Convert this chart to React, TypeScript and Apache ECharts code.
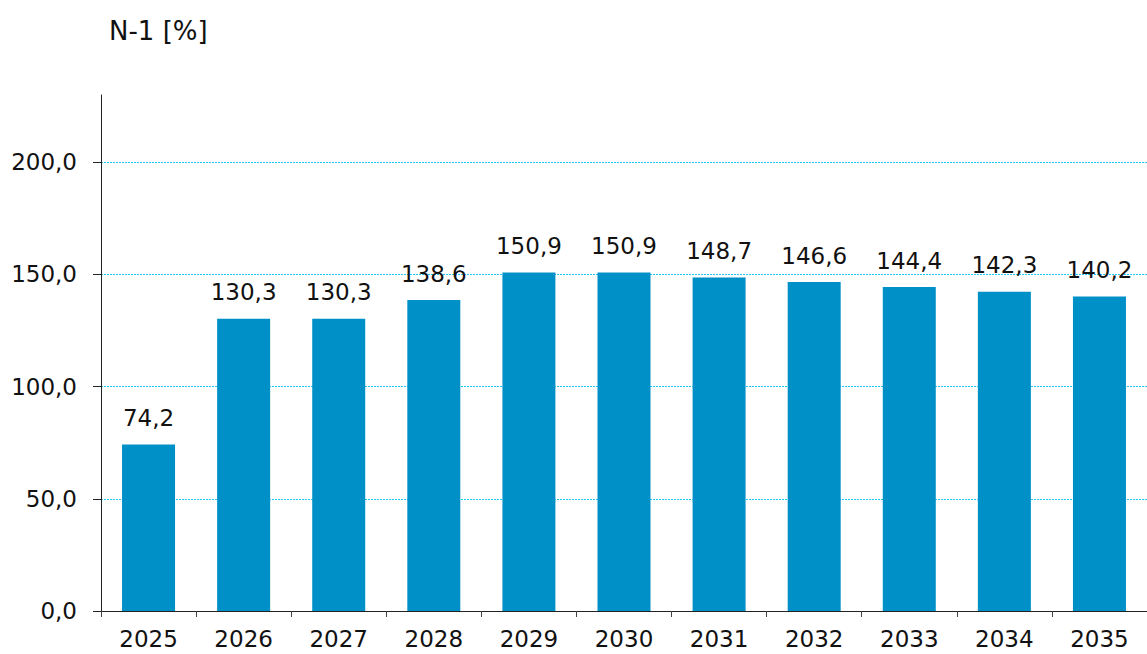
import React, { useEffect, useRef } from "react";
import * as echarts from "echarts";

const categories = ["2025", "2026", "2027", "2028", "2029", "2030", "2031", "2032", "2033", "2034", "2035"];
const values = [74.2, 130.3, 130.3, 138.6, 150.9, 150.9, 148.7, 146.6, 144.4, 142.3, 140.2];
const yTicks = [0, 50, 100, 150, 200];
const yTitle = "N-1 [%]";

const FONT = "DejaVu Sans";
const fmt = (v: number) => v.toFixed(1).replace(".", ",");

export default function App() {
  const ref = useRef<HTMLDivElement>(null);
  useEffect(() => {
    if (!ref.current) return;
    const chart = echarts.init(ref.current, undefined, { renderer: "svg" });
    chart.setOption({
      animation: false,
      backgroundColor: "#ffffff",
      title: {
        text: yTitle,
        left: 104,
        top: 13,
        textStyle: { fontFamily: FONT, fontSize: 26, fontWeight: "normal", color: "#111" },
      },
      grid: { left: 101, right: 0, top: 95, bottom: 43, containLabel: false },
      xAxis: {
        type: "category",
        data: categories,
        axisLine: { show: true, lineStyle: { color: "#222", width: 1 } },
        axisTick: { show: true, alignWithLabel: false, length: 6, lineStyle: { color: "#444" } },
        axisLabel: { fontFamily: FONT, fontSize: 23, color: "#111", margin: 16 },
      },
      yAxis: {
        type: "value",
        min: 0,
        max: 230,
        interval: 50,
        axisLine: { show: true, lineStyle: { color: "#222", width: 1 } },
        axisTick: { show: true, length: 8, lineStyle: { color: "#222" }, customValues: yTicks },
        axisLabel: {
          fontFamily: FONT,
          fontSize: 23,
          color: "#111",
          margin: 24,
          customValues: yTicks,
          formatter: (v: number) => (v > 200 ? "" : fmt(v)),
        },
        splitLine: {
          show: true,
          showMinLine: false,
          showMaxLine: true,
          lineStyle: { color: "#22c8f5", type: [2, 1], width: 1 },
        },
      },
      series: [
        {
          type: "bar",
          data: values,
          barWidth: 53,
          itemStyle: { color: "#0090c8" },
          label: {
            show: true,
            position: "top",
            distance: 15,
            fontFamily: FONT,
            fontSize: 23,
            color: "#111",
            formatter: (p: any) => fmt(p.value),
          },
        },
      ],
    });
    return () => chart.dispose();
  }, []);
  return <div ref={ref} style={{ position: "fixed", left: 0, top: 0, width: 1147, height: 654 }} />;
}
